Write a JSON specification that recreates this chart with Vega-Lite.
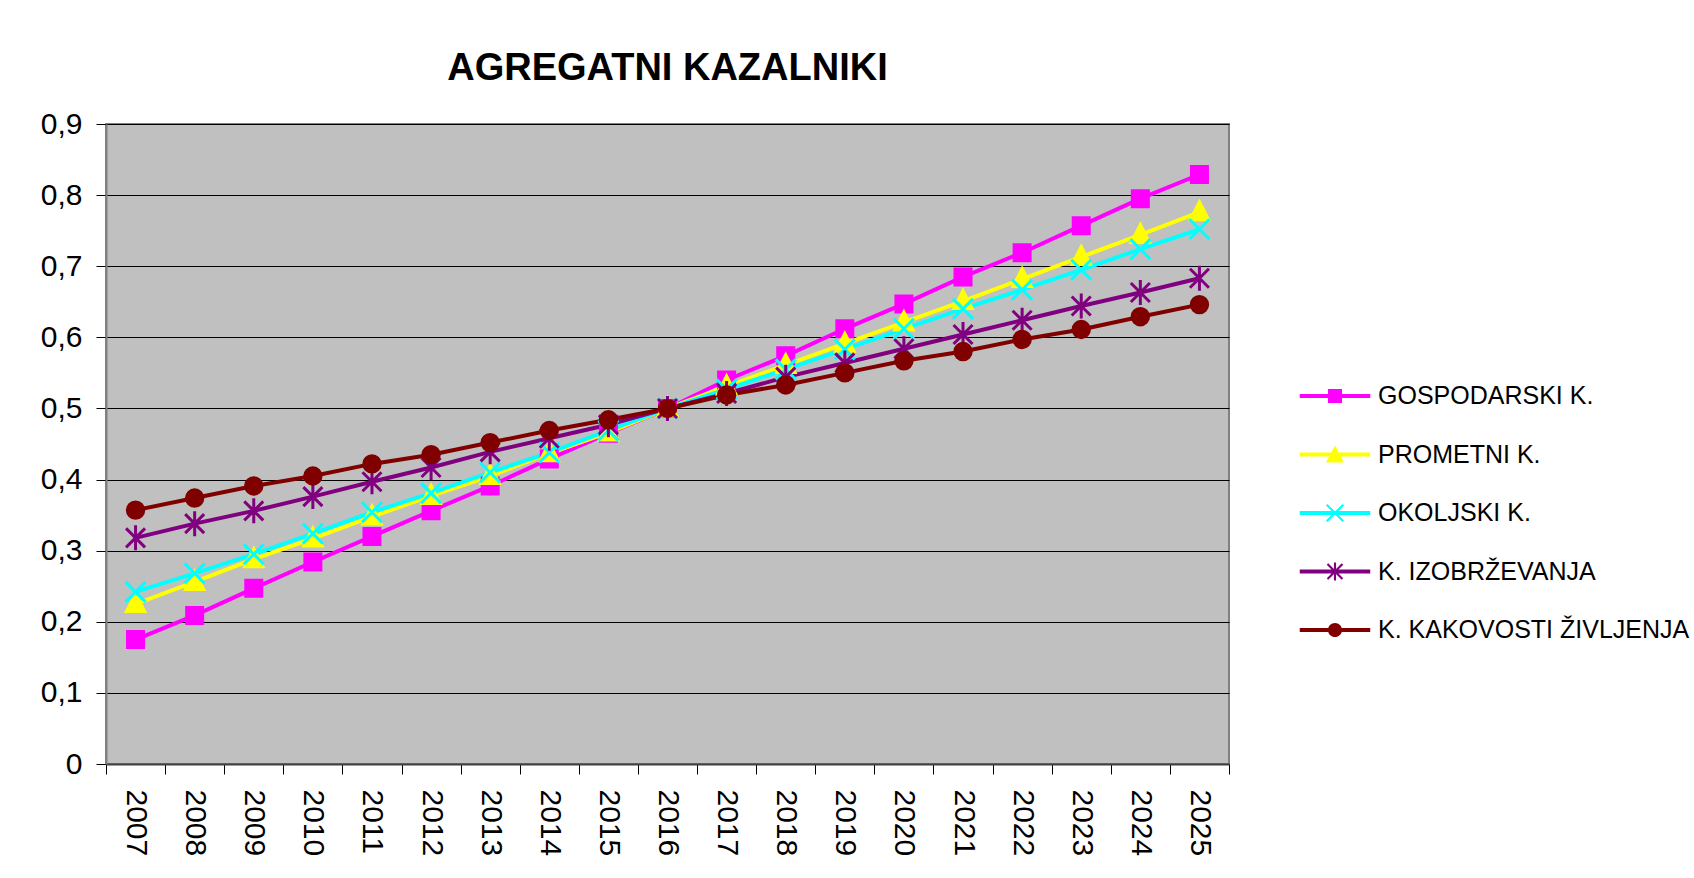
{
  "$schema": "https://vega.github.io/schema/vega-lite/v6.json",
  "autosize": {"type": "none"},
  "padding": {"left": 106, "top": 124, "right": 465, "bottom": 114},
  "width": 1123,
  "height": 640,
  "background": "white",
  "title": {
    "text": "AGREGATNI KAZALNIKI",
    "font": "Liberation Sans",
    "fontSize": 38,
    "fontWeight": "bold",
    "color": "black",
    "anchor": "middle",
    "frame": "group",
    "baseline": "alphabetic",
    "offset": -9
  },
  "data": {
    "values": [
      {"year": "2007", "series": "GOSPODARSKI K.", "value": 0.175},
      {"year": "2008", "series": "GOSPODARSKI K.", "value": 0.209},
      {"year": "2009", "series": "GOSPODARSKI K.", "value": 0.247},
      {"year": "2010", "series": "GOSPODARSKI K.", "value": 0.284},
      {"year": "2011", "series": "GOSPODARSKI K.", "value": 0.320},
      {"year": "2012", "series": "GOSPODARSKI K.", "value": 0.356},
      {"year": "2013", "series": "GOSPODARSKI K.", "value": 0.391},
      {"year": "2014", "series": "GOSPODARSKI K.", "value": 0.429},
      {"year": "2015", "series": "GOSPODARSKI K.", "value": 0.465},
      {"year": "2016", "series": "GOSPODARSKI K.", "value": 0.500},
      {"year": "2017", "series": "GOSPODARSKI K.", "value": 0.540},
      {"year": "2018", "series": "GOSPODARSKI K.", "value": 0.574},
      {"year": "2019", "series": "GOSPODARSKI K.", "value": 0.612},
      {"year": "2020", "series": "GOSPODARSKI K.", "value": 0.647},
      {"year": "2021", "series": "GOSPODARSKI K.", "value": 0.685},
      {"year": "2022", "series": "GOSPODARSKI K.", "value": 0.719},
      {"year": "2023", "series": "GOSPODARSKI K.", "value": 0.757},
      {"year": "2024", "series": "GOSPODARSKI K.", "value": 0.795},
      {"year": "2025", "series": "GOSPODARSKI K.", "value": 0.829},
      {"year": "2007", "series": "PROMETNI K.", "value": 0.225},
      {"year": "2008", "series": "PROMETNI K.", "value": 0.256},
      {"year": "2009", "series": "PROMETNI K.", "value": 0.288},
      {"year": "2010", "series": "PROMETNI K.", "value": 0.317},
      {"year": "2011", "series": "PROMETNI K.", "value": 0.348},
      {"year": "2012", "series": "PROMETNI K.", "value": 0.377},
      {"year": "2013", "series": "PROMETNI K.", "value": 0.405},
      {"year": "2014", "series": "PROMETNI K.", "value": 0.437},
      {"year": "2015", "series": "PROMETNI K.", "value": 0.466},
      {"year": "2016", "series": "PROMETNI K.", "value": 0.500},
      {"year": "2017", "series": "PROMETNI K.", "value": 0.531},
      {"year": "2018", "series": "PROMETNI K.", "value": 0.561},
      {"year": "2019", "series": "PROMETNI K.", "value": 0.591},
      {"year": "2020", "series": "PROMETNI K.", "value": 0.621},
      {"year": "2021", "series": "PROMETNI K.", "value": 0.651},
      {"year": "2022", "series": "PROMETNI K.", "value": 0.682},
      {"year": "2023", "series": "PROMETNI K.", "value": 0.713},
      {"year": "2024", "series": "PROMETNI K.", "value": 0.744},
      {"year": "2025", "series": "PROMETNI K.", "value": 0.776},
      {"year": "2007", "series": "OKOLJSKI K.", "value": 0.242},
      {"year": "2008", "series": "OKOLJSKI K.", "value": 0.268},
      {"year": "2009", "series": "OKOLJSKI K.", "value": 0.295},
      {"year": "2010", "series": "OKOLJSKI K.", "value": 0.324},
      {"year": "2011", "series": "OKOLJSKI K.", "value": 0.354},
      {"year": "2012", "series": "OKOLJSKI K.", "value": 0.381},
      {"year": "2013", "series": "OKOLJSKI K.", "value": 0.410},
      {"year": "2014", "series": "OKOLJSKI K.", "value": 0.438},
      {"year": "2015", "series": "OKOLJSKI K.", "value": 0.469},
      {"year": "2016", "series": "OKOLJSKI K.", "value": 0.500},
      {"year": "2017", "series": "OKOLJSKI K.", "value": 0.527},
      {"year": "2018", "series": "OKOLJSKI K.", "value": 0.555},
      {"year": "2019", "series": "OKOLJSKI K.", "value": 0.583},
      {"year": "2020", "series": "OKOLJSKI K.", "value": 0.612},
      {"year": "2021", "series": "OKOLJSKI K.", "value": 0.640},
      {"year": "2022", "series": "OKOLJSKI K.", "value": 0.667},
      {"year": "2023", "series": "OKOLJSKI K.", "value": 0.695},
      {"year": "2024", "series": "OKOLJSKI K.", "value": 0.724},
      {"year": "2025", "series": "OKOLJSKI K.", "value": 0.752},
      {"year": "2007", "series": "K. IZOBRŽEVANJA", "value": 0.318},
      {"year": "2008", "series": "K. IZOBRŽEVANJA", "value": 0.338},
      {"year": "2009", "series": "K. IZOBRŽEVANJA", "value": 0.356},
      {"year": "2010", "series": "K. IZOBRŽEVANJA", "value": 0.376},
      {"year": "2011", "series": "K. IZOBRŽEVANJA", "value": 0.397},
      {"year": "2012", "series": "K. IZOBRŽEVANJA", "value": 0.417},
      {"year": "2013", "series": "K. IZOBRŽEVANJA", "value": 0.439},
      {"year": "2014", "series": "K. IZOBRŽEVANJA", "value": 0.458},
      {"year": "2015", "series": "K. IZOBRŽEVANJA", "value": 0.477},
      {"year": "2016", "series": "K. IZOBRŽEVANJA", "value": 0.500},
      {"year": "2017", "series": "K. IZOBRŽEVANJA", "value": 0.521},
      {"year": "2018", "series": "K. IZOBRŽEVANJA", "value": 0.544},
      {"year": "2019", "series": "K. IZOBRŽEVANJA", "value": 0.564},
      {"year": "2020", "series": "K. IZOBRŽEVANJA", "value": 0.584},
      {"year": "2021", "series": "K. IZOBRŽEVANJA", "value": 0.604},
      {"year": "2022", "series": "K. IZOBRŽEVANJA", "value": 0.624},
      {"year": "2023", "series": "K. IZOBRŽEVANJA", "value": 0.644},
      {"year": "2024", "series": "K. IZOBRŽEVANJA", "value": 0.663},
      {"year": "2025", "series": "K. IZOBRŽEVANJA", "value": 0.683},
      {"year": "2007", "series": "K. KAKOVOSTI ŽIVLJENJA", "value": 0.357},
      {"year": "2008", "series": "K. KAKOVOSTI ŽIVLJENJA", "value": 0.374},
      {"year": "2009", "series": "K. KAKOVOSTI ŽIVLJENJA", "value": 0.391},
      {"year": "2010", "series": "K. KAKOVOSTI ŽIVLJENJA", "value": 0.405},
      {"year": "2011", "series": "K. KAKOVOSTI ŽIVLJENJA", "value": 0.422},
      {"year": "2012", "series": "K. KAKOVOSTI ŽIVLJENJA", "value": 0.435},
      {"year": "2013", "series": "K. KAKOVOSTI ŽIVLJENJA", "value": 0.452},
      {"year": "2014", "series": "K. KAKOVOSTI ŽIVLJENJA", "value": 0.469},
      {"year": "2015", "series": "K. KAKOVOSTI ŽIVLJENJA", "value": 0.484},
      {"year": "2016", "series": "K. KAKOVOSTI ŽIVLJENJA", "value": 0.500},
      {"year": "2017", "series": "K. KAKOVOSTI ŽIVLJENJA", "value": 0.519},
      {"year": "2018", "series": "K. KAKOVOSTI ŽIVLJENJA", "value": 0.533},
      {"year": "2019", "series": "K. KAKOVOSTI ŽIVLJENJA", "value": 0.550},
      {"year": "2020", "series": "K. KAKOVOSTI ŽIVLJENJA", "value": 0.567},
      {"year": "2021", "series": "K. KAKOVOSTI ŽIVLJENJA", "value": 0.580},
      {"year": "2022", "series": "K. KAKOVOSTI ŽIVLJENJA", "value": 0.597},
      {"year": "2023", "series": "K. KAKOVOSTI ŽIVLJENJA", "value": 0.611},
      {"year": "2024", "series": "K. KAKOVOSTI ŽIVLJENJA", "value": 0.629},
      {"year": "2025", "series": "K. KAKOVOSTI ŽIVLJENJA", "value": 0.646}
    ]
  },
  "encoding": {
    "x": {
      "field": "year",
      "type": "ordinal",
      "scale": {"type": "band", "paddingInner": 0, "paddingOuter": 0},
      "axis": {
        "title": null,
        "labelAngle": 90,
        "labelFont": "Liberation Sans",
        "labelFontSize": 30,
        "labelColor": "black",
        "labelPadding": 15,
        "tickBand": "extent",
        "tickSize": 10,
        "tickColor": "black",
        "tickWidth": 1,
        "domainColor": "#404040",
        "domainWidth": 2,
        "grid": false
      }
    },
    "y": {
      "field": "value",
      "type": "quantitative",
      "scale": {"domain": [0, 0.9], "nice": false, "zero": true},
      "axis": {
        "title": null,
        "values": [0, 0.1, 0.2, 0.3, 0.4, 0.5, 0.6, 0.7, 0.8, 0.9],
        "labelExpr": "datum.value == 0 ? '0' : replace(format(datum.value, '.1f'), '.', ',')",
        "labelFont": "Liberation Sans",
        "labelFontSize": 30,
        "labelColor": "black",
        "labelPadding": 14,
        "tickSize": 10,
        "tickColor": "black",
        "tickWidth": 1,
        "domainColor": "#808080",
        "domainWidth": 2,
        "grid": true,
        "gridColor": "black",
        "gridWidth": 1,
        "gridOpacity": 1
      }
    }
  },
  "layer": [
    {
      "mark": {"type": "line", "strokeWidth": 4},
      "encoding": {
        "color": {
          "field": "series",
          "type": "nominal",
          "scale": {
            "domain": ["GOSPODARSKI K.", "PROMETNI K.", "OKOLJSKI K.", "K. IZOBRŽEVANJA", "K. KAKOVOSTI ŽIVLJENJA"],
            "range": ["#FF00FF", "#FFFF00", "#00FFFF", "#800080", "#800000"]
          },
          "legend": null
        }
      }
    },
    {
      "mark": {"type": "point", "filled": true, "opacity": 1, "size": 400, "strokeWidth": 3},
      "encoding": {
        "color": {
          "field": "series",
          "type": "nominal",
          "scale": {
            "domain": ["GOSPODARSKI K.", "PROMETNI K.", "OKOLJSKI K.", "K. IZOBRŽEVANJA", "K. KAKOVOSTI ŽIVLJENJA"],
            "range": ["#FF00FF", "#FFFF00", "#00FFFF", "#800080", "#800000"]
          },
          "legend": null
        },
        "stroke": {
          "field": "series",
          "type": "nominal",
          "scale": {
            "domain": ["GOSPODARSKI K.", "PROMETNI K.", "OKOLJSKI K.", "K. IZOBRŽEVANJA", "K. KAKOVOSTI ŽIVLJENJA"],
            "range": ["#FF00FF", "#FFFF00", "#00FFFF", "#800080", "#800000"]
          },
          "legend": null
        },
        "shape": {
          "field": "series",
          "type": "nominal",
          "scale": {
            "domain": ["GOSPODARSKI K.", "PROMETNI K.", "OKOLJSKI K.", "K. IZOBRŽEVANJA", "K. KAKOVOSTI ŽIVLJENJA"],
            "range": [
              "M-0.8,-0.8L0.8,-0.8L0.8,0.8L-0.8,0.8Z",
              "M0,-1.05L0.92,0.75L-0.92,0.75Z",
              "M-1,-1L1,1M-1,1L1,-1",
              "M-0.95,-0.95L0.95,0.95M-0.95,0.95L0.95,-0.95M0,-1.25L0,1.25",
              "M0.82,0A0.82,0.82,0,1,1,-0.82,0A0.82,0.82,0,1,1,0.82,0Z"
            ]
          },
          "legend": null
        }
      }
    },
    {
      "transform": [{"filter": "false"}],
      "mark": {"type": "point", "filled": true, "opacity": 1, "strokeWidth": 0},
      "encoding": {
        "fill": {
          "field": "series",
          "type": "nominal",
          "scale": {
            "domain": ["GOSPODARSKI K.", "PROMETNI K.", "OKOLJSKI K.", "K. IZOBRŽEVANJA", "K. KAKOVOSTI ŽIVLJENJA"],
            "range": ["#FF00FF", "#FFFF00", "#00FFFF", "#800080", "#800000"]
          },
          "legend": {
            "title": null,
            "orient": "none",
            "legendX": 1214,
            "legendY": 257,
            "padding": 0,
            "symbolSize": 900,
            "symbolOpacity": 1,
            "symbolStrokeWidth": 0,
            "rowPadding": 30.5,
            "labelOffset": 28,
            "labelFont": "Liberation Sans",
            "labelFontSize": 25,
            "labelColor": "black",
            "labelLimit": 400
          }
        },
        "shape": {
          "field": "series",
          "type": "nominal",
          "scale": {
            "domain": ["GOSPODARSKI K.", "PROMETNI K.", "OKOLJSKI K.", "K. IZOBRŽEVANJA", "K. KAKOVOSTI ŽIVLJENJA"],
            "range": [
              "M-2.35,-0.133L2.35,-0.133L2.35,0.133L-2.35,0.133Z M-0.47,-0.47L0.47,-0.47L0.47,0.47L-0.47,0.47Z",
              "M-2.35,-0.133L2.35,-0.133L2.35,0.133L-2.35,0.133Z M0,-0.6L0.6,0.53L-0.6,0.53Z",
              "M-2.35,-0.133L2.35,-0.133L2.35,0.133L-2.35,0.133Z M-0.5,-0.6L0.6,0.5L0.5,0.6L-0.6,-0.5Z M0.5,-0.6L0.6,-0.5L-0.5,0.6L-0.6,0.5Z",
              "M-2.35,-0.133L2.35,-0.133L2.35,0.133L-2.35,0.133Z M-0.45,-0.55L0.55,0.45L0.45,0.55L-0.55,-0.45Z M0.45,-0.55L0.55,-0.45L-0.45,0.55L-0.55,0.45Z M-0.07,-0.6L0.07,-0.6L0.07,0.6L-0.07,0.6Z",
              "M-2.35,-0.133L2.35,-0.133L2.35,0.133L-2.35,0.133Z M0.47,0A0.47,0.47,0,1,1,-0.47,0A0.47,0.47,0,1,1,0.47,0Z"
            ]
          },
          "legend": {
            "title": null,
            "orient": "none",
            "legendX": 1214,
            "legendY": 257,
            "padding": 0,
            "symbolSize": 900,
            "symbolOpacity": 1,
            "symbolStrokeWidth": 0,
            "rowPadding": 30.5,
            "labelOffset": 28,
            "labelFont": "Liberation Sans",
            "labelFontSize": 25,
            "labelColor": "black",
            "labelLimit": 400
          }
        }
      }
    }
  ],
  "resolve": {
    "scale": {"shape": "independent", "fill": "independent"},
    "legend": {"shape": "independent", "fill": "independent"}
  },
  "config": {
    "view": {"stroke": "#808080", "strokeWidth": 2, "fill": "#C0C0C0"},
    "axis": {"labelFont": "Liberation Sans"}
  }
}
